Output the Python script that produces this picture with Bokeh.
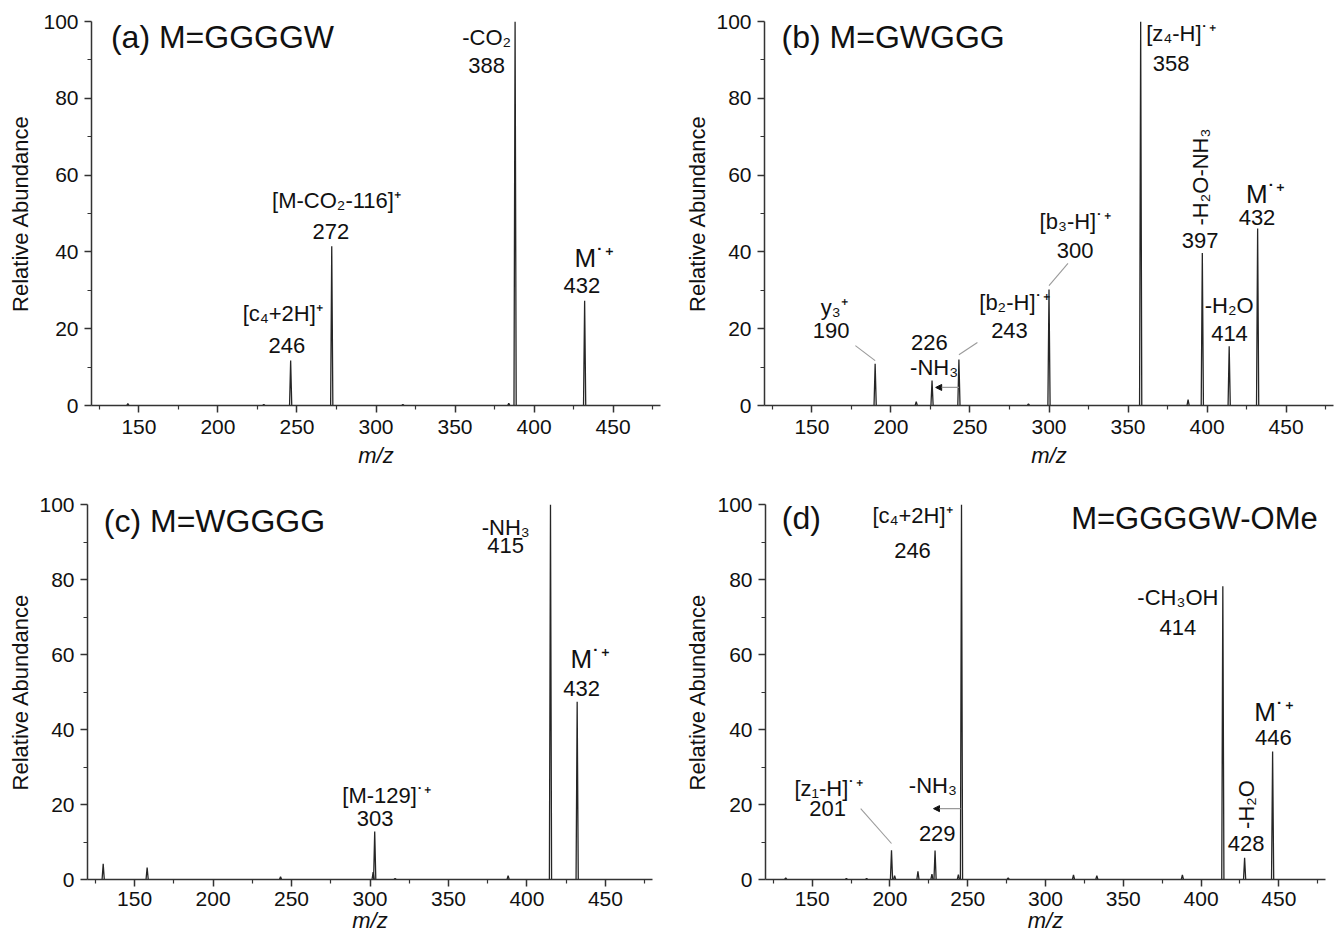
from bokeh.plotting import figure
from bokeh.layouts import column, row
from bokeh.models import FixedTicker, Label, Range1d, Arrow, NormalHead
from bokeh.embed import file_html
from bokeh.resources import INLINE

FONT = "Liberation Sans"
HALF_PI = 1.5707963

# ---------------- data ----------------
x_major = [150, 200, 250, 300, 350, 400, 450]
x_minor = [125, 175, 225, 275, 325, 375, 425, 475]
y_major = [0, 20, 40, 60, 80, 100]
y_minor = [10, 30, 50, 70, 90]

a_mz = [143, 229, 246, 272, 317, 384, 388, 432]
a_ab = [0.5, 0.3, 11.7, 41.5, 0.3, 0.6, 100.0, 27.3]

b_mz = [190, 216, 226, 243, 287, 300, 358, 388, 397, 414, 432]
b_ab = [10.9, 1.0, 6.5, 12.0, 0.4, 30.2, 100.0, 1.5, 39.7, 15.4, 46.1]

c_mz = [130, 158, 243, 302, 303, 316, 388, 415, 432]
c_ab = [4.2, 3.2, 0.7, 2.0, 12.8, 0.3, 1.0, 100.0, 47.4]

d_mz = [133, 172, 185, 201, 203, 218, 227, 229, 244, 246, 276, 318, 333, 388, 414, 428, 446]
d_ab = [0.4, 0.3, 0.3, 7.8, 1.0, 2.2, 1.4, 7.7, 1.3, 100.0, 0.4, 1.2, 1.0, 1.2, 78.2, 5.8, 34.1]

titles = ["(a) M=GGGGW", "(b) M=GWGGG", "(c) M=WGGGG", "(d)"]
title_d2 = "M=GGGGW-OMe"


def height_of(mz, ab, m):
    return ab[mz.index(m)]


def make_panel(mz, ab, width, height, left, right, top, bottom, xmax,
               ylab_standoff, xtick_standoff, xlab_standoff):
    p = figure(width=width, height=height, x_range=Range1d(120, xmax), y_range=Range1d(0, 100),
               output_backend="svg", toolbar_location=None,
               min_border_left=left, min_border_right=right,
               min_border_top=top, min_border_bottom=bottom)
    p.outline_line_color = None
    p.xgrid.visible = False
    p.ygrid.visible = False
    for ax in (p.xaxis[0], p.yaxis[0]):
        ax.axis_line_color = "#333333"
        ax.axis_line_width = 1.5
        ax.major_tick_line_color = "#333333"
        ax.major_tick_line_width = 1.5
        ax.minor_tick_line_color = "#333333"
        ax.minor_tick_line_width = 1.2
        ax.major_tick_in = 0
        ax.major_tick_out = 7
        ax.minor_tick_in = 0
        ax.minor_tick_out = 4
        ax.major_label_text_font = FONT
        ax.major_label_text_font_size = "21px"
        ax.major_label_text_color = "#111111"
        ax.axis_label_text_font = FONT
        ax.axis_label_text_font_size = "22px"
        ax.axis_label_text_color = "#111111"
    p.xaxis.ticker = FixedTicker(ticks=x_major, minor_ticks=x_minor)
    p.yaxis.ticker = FixedTicker(ticks=y_major, minor_ticks=y_minor)
    p.xaxis.major_label_standoff = xtick_standoff
    p.yaxis.major_label_standoff = 6
    p.yaxis.axis_label = "Relative Abundance"
    p.yaxis.axis_label_standoff = ylab_standoff
    p.yaxis.axis_label_text_font_style = "normal"
    p.xaxis.axis_label = "m/z"
    p.xaxis.axis_label_text_font_style = "italic"
    p.xaxis.axis_label_standoff = xlab_standoff
    xs = [[m - 0.7, m, m + 0.7] for m in mz]
    ys = [[0, h, 0] for h in ab]
    p.multi_line(xs, ys, line_color="#262626", line_width=1.3)
    return p


def lab(p, text, x, y, size=22, align="center", angle=0.0):
    p.add_layout(Label(x=x, y=y, text=text, text_align=align, text_baseline="middle",
                       text_font=FONT, text_font_size=f"{size}px", text_color="#111111",
                       angle=angle))


def leader(p, mz, ab, m, dh, x1, y1):
    p.segment(x0=[m], y0=[height_of(mz, ab, m) + dh], x1=[x1], y1=[y1],
              line_color="#9a9a9a", line_width=1.1)


def loss_arrow(p, m_from, m_to, y):
    p.add_layout(Arrow(x_start=m_from, y_start=y, x_end=m_to, y_end=y,
                       end=NormalHead(size=6, fill_color="#111111", line_color="#111111"),
                       line_color="#9a9a9a", line_width=1.3))


# ---------------- panel (a) ----------------
pa = make_panel(a_mz, a_ab, 670, 473, 91, 10, 21, 68, 480, 7, 7, 6)
lab(pa, titles[0], 132.3, 96.0, 32, "left")
lab(pa, "-CO₂", 370, 95.8)
lab(pa, "388", 370, 88.5)
lab(pa, "[c₄+2H]⁺", 241, 24.0)
lab(pa, "246", 243.6, 15.6)
lab(pa, "[M-CO₂-116]⁺", 275, 53.4)
lab(pa, "272", 271.4, 45.3)
lab(pa, "M˙⁺", 425.6, 38.3, 26, "left")
lab(pa, "432", 430.3, 31.3)

# ---------------- panel (b) ----------------
pb = make_panel(b_mz, b_ab, 667, 473, 94, 4, 21, 68, 480, 3, 7, 6)
lab(pb, titles[1], 130.8, 96.0, 32, "left")
lab(pb, "[z₄-H]˙⁺", 361.5, 97.0, 22, "left")
lab(pb, "358", 377.2, 89.0)
lab(pb, "-H₂O-NH₃", 395.6, 59.5, 22, "center", HALF_PI)
lab(pb, "397", 395.6, 43.0)
lab(pb, "M˙⁺", 424.7, 55.2, 26, "left")
lab(pb, "432", 431.6, 49.0)
lab(pb, "-H₂O", 414.0, 26.0)
lab(pb, "414", 414.2, 18.75)
lab(pb, "[b₃-H]˙⁺", 316.5, 47.9)
lab(pb, "300", 316.5, 40.4)
lab(pb, "[b₂-H]˙⁺", 278.2, 26.8)
lab(pb, "243", 275.0, 19.5)
lab(pb, "226", 224.3, 16.4)
lab(pb, "-NH₃", 227.3, 9.9)
lab(pb, "y₃⁺", 164.1, 25.5)
lab(pb, "190", 162.2, 19.5)
leader(pb, b_mz, b_ab, 190, 0.8, 177.5, 15.6)
leader(pb, b_mz, b_ab, 243, 1.2, 254.7, 16.4)
leader(pb, b_mz, b_ab, 300, 1.0, 312.0, 37.0)
loss_arrow(pb, 243, 228.3, 4.7)

# ---------------- panel (c) ----------------
pc = make_panel(c_mz, c_ab, 670, 462, 87, 18, 26, 56, 480, 3, 5, -1)
lab(pc, titles[2], 130.4, 95.7, 32, "left")
lab(pc, "-NH₃", 386.5, 94.0)
lab(pc, "415", 386.4, 89.2)
lab(pc, "M˙⁺", 427.8, 58.9, 26, "left")
lab(pc, "432", 434.9, 51.0)
lab(pc, "[M-129]˙⁺", 310.7, 22.5)
lab(pc, "303", 303.2, 16.2)

# ---------------- panel (d) ----------------
pd_ = make_panel(d_mz, d_ab, 667, 462, 95, 12, 31, 56, 480, 4, 5, -1)
lab(pd_, titles[3], 130.5, 96.3, 32, "left")
lab(pd_, title_d2, 316.5, 96.3, 31, "left")
lab(pd_, "[c₄+2H]⁺", 214.5, 97.1)
lab(pd_, "246", 214.5, 87.7)
lab(pd_, "-CH₃OH", 385.1, 75.2)
lab(pd_, "414", 385.1, 67.2)
lab(pd_, "M˙⁺", 434.2, 44.6, 26, "left")
lab(pd_, "446", 446.5, 38.0)
lab(pd_, "-H₂O", 429.0, 20.0, 22, "center", HALF_PI)
lab(pd_, "428", 429.0, 9.6)
lab(pd_, "[z₁-H]˙⁺", 160.5, 24.3)
lab(pd_, "201", 160.0, 18.9)
lab(pd_, "-NH₃", 227.6, 25.0)
lab(pd_, "229", 230.4, 12.3)
leader(pd_, d_mz, d_ab, 201, 1.8, 181.2, 18.9)
loss_arrow(pd_, 245.3, 228.0, 18.9)

layout = column(row(pa, pb), row(pc, pd_))
try:
    from bokeh.models import GlobalInlineStyleSheet
    layout.stylesheets = [GlobalInlineStyleSheet(css="html, body { overflow: hidden; }")]
except Exception:
    pass

open("out.html", "w").write(file_html(layout, INLINE))
